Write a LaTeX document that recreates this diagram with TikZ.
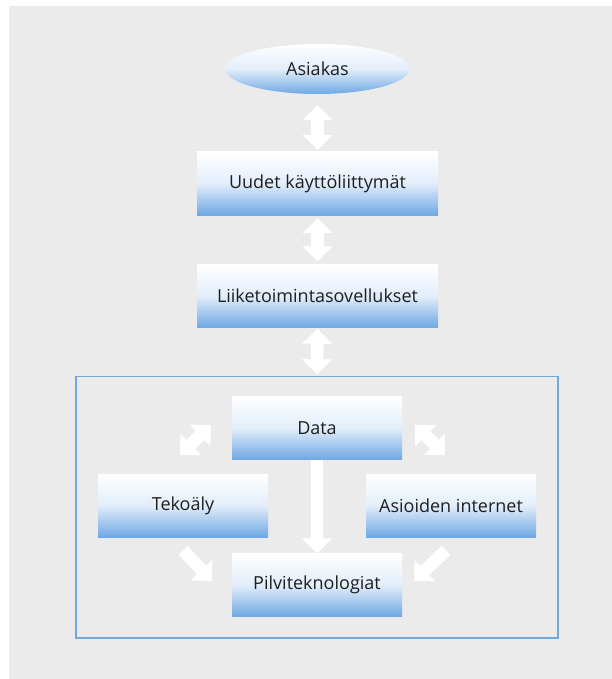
\documentclass[tikz,border=0pt]{standalone}
\usepackage{fontspec}
\setmainfont{Open Sans}
\usetikzlibrary{arrows.meta,calc,shapes.geometric}
\definecolor{akGrey}{HTML}{EBEBEB}
\definecolor{akBlue}{HTML}{6FA8E4}
\definecolor{akFrame}{HTML}{72A9DC}
\definecolor{akInk}{HTML}{1E1E1E}

\begin{document}
\begin{tikzpicture}[x=1pt, y=-1pt, font=\fontsize{18}{21}\selectfont,
    layer/.style={top color=white, bottom color=akBlue, middle color=akBlue!20,
      text=akInk, inner sep=0pt, minimum height=63pt},
    dblarrow/.style={white, line width=12.5pt,
      {Triangle[width=29pt,length=15pt]}-{Triangle[width=29pt,length=15pt]}},
    onearrow/.style={white, line width=12.5pt, -{Triangle[width=29pt,length=15pt]}}]
  \useasboundingbox (0,0) rectangle (612,679);
  \fill[akGrey] (9,6) rectangle (612,679);

  \node[layer, ellipse, minimum width=184pt, minimum height=50pt] (asiakas) at (317.5,69) {Asiakas};
  \foreach \n/\x/\y/\w/\t in {
    uudet/317.5/183.5/241/{Uudet käyttöliittymät},
    liike/317.5/296/241/{Liiketoimintasovellukset},
    data/317/428/170/{Data},
    tekoaly/183/505.5/170/{Tekoäly},
    iot/451/505.5/170/{Asioiden internet},
    pilvi/317/585/170/{Pilviteknologiat}
  } {
    \node[layer, minimum width=\w pt] (\n) at (\x,\y) {\t};
  }
  \node[draw=akFrame, line width=1.3pt, minimum width=482pt, minimum height=261.5pt,
        inner sep=0pt] (alusta) at (317,507.25) {};

  % ylhaalta alas
  \draw[dblarrow, shorten <=11pt, shorten >=2pt] (asiakas.south) -- (uudet.north);
  \draw[dblarrow, shorten <=3pt, shorten >=3pt] (uudet.south) -- (liike.north);
  \draw[dblarrow, shorten <=1pt, shorten >=1.5pt] (liike.south) -- (alusta.north);

  % kehyksen sisalla
  \draw[dblarrow] ($(tekoaly.north)+(-3,-19)$) -- ($(data.west)+(-21,-3)$);
  \draw[dblarrow] ($(iot.north)+(-6,-19)$) -- ($(data.east)+(13,-3)$);
  \draw[onearrow] (data.south) -- (pilvi.north);
  \draw[onearrow] ($(tekoaly.south)+(0,13)$) -- ($(pilvi.west)+(-20,-4)$);
  \draw[onearrow] ($(iot.south)+(-5,13)$) -- ($(pilvi.east)+(12,-4)$);
\end{tikzpicture}
\end{document}
